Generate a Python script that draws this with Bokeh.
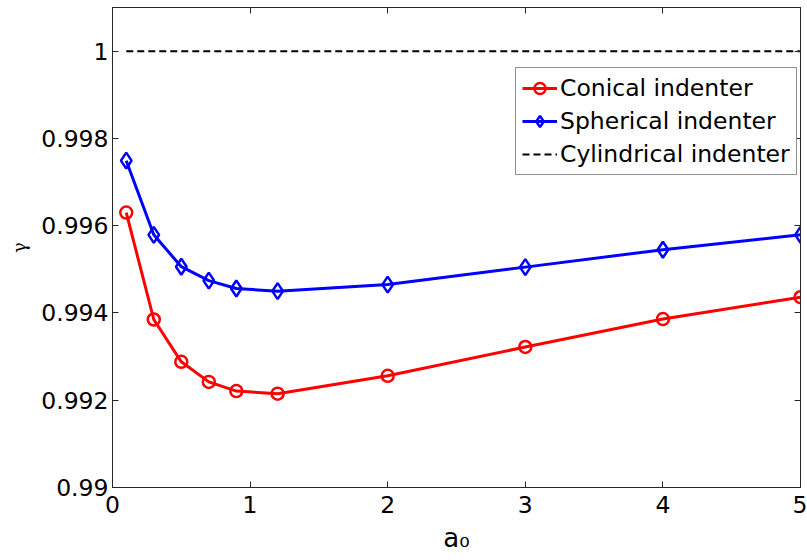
from bokeh.plotting import figure
from bokeh.models import (FixedTicker, LinearAxis, Legend, LegendItem,
                          CustomJSTickFormatter, Range1d)
from bokeh.embed import file_html
from bokeh.resources import INLINE

# ---- data ----
a0 = [0.1, 0.3, 0.5, 0.7, 0.9, 1.2, 2, 3, 4, 5]
conical = [0.99630, 0.99385, 0.99288, 0.99242, 0.99221, 0.99215,
           0.99256, 0.99322, 0.99386, 0.99436]
spherical = [0.99749, 0.99579, 0.99506, 0.99474, 0.99456, 0.99450,
             0.99465, 0.99505, 0.99545, 0.99579]
cyl_x = [0.1, 5]
cyl_y = [1.0, 1.0]
x_ticks = [0, 1, 2, 3, 4, 5]
y_ticks = [0.99, 0.992, 0.994, 0.996, 0.998, 1.0]
y_tick_labels = ["0.99", "0.992", "0.994", "0.996", "0.998", "1"]
series_labels = ["Conical indenter", "Spherical indenter", "Cylindrical indenter"]
x_label = "a₀"
y_label = "γ"

FONT = "DejaVu Sans"
FS = "23.5px"
AXC = "#262626"

p = figure(width=807, height=560,
           min_border_left=112, min_border_right=7,
           min_border_top=7, min_border_bottom=73,
           x_range=Range1d(0, 5), y_range=Range1d(0.99, 1.001),
           output_backend="svg", toolbar_location=None,
           background_fill_color="white", border_fill_color="white")
p.outline_line_color = AXC
p.xgrid.visible = False
p.ygrid.visible = False

xa = p.xaxis[0]
xa.ticker = FixedTicker(ticks=x_ticks)
xa.axis_label = x_label
xa.axis_label_text_font = FONT
xa.axis_label_text_font_style = "normal"
xa.axis_label_text_font_size = "26px"
xa.axis_label_standoff = 7
ya = p.yaxis[0]
ya.ticker = FixedTicker(ticks=y_ticks)
ya.major_label_overrides = {v: s for v, s in zip(y_ticks, y_tick_labels)}
ya.axis_label = y_label
ya.axis_label_text_font = "DejaVu Serif"
ya.axis_label_text_font_style = "normal"
ya.axis_label_text_font_size = "18px"
ya.axis_label_standoff = 8

for ax in (xa, ya):
    ax.major_tick_in = 6
    ax.major_tick_out = 0
    ax.minor_tick_line_color = None
    ax.axis_line_color = AXC
    ax.major_tick_line_color = AXC
    ax.major_label_text_font = FONT
    ax.major_label_text_font_size = FS
    ax.major_label_text_color = "black"
    ax.axis_label_text_color = "black"
xa.major_label_standoff = 8
ya.major_label_standoff = 4

empty = CustomJSTickFormatter(code="return ''")
ra = LinearAxis(ticker=FixedTicker(ticks=y_ticks), formatter=empty,
                major_tick_in=6, major_tick_out=0, minor_tick_line_color=None,
                axis_line_color=AXC, major_tick_line_color=AXC,
                major_label_standoff=0, major_label_text_font_size="1px")
ta = LinearAxis(ticker=FixedTicker(ticks=x_ticks), formatter=empty,
                major_tick_in=6, major_tick_out=0, minor_tick_line_color=None,
                axis_line_color=AXC, major_tick_line_color=AXC,
                major_label_standoff=0, major_label_text_font_size="1px")
p.add_layout(ra, "right")
p.add_layout(ta, "above")

r_cyl = p.line(cyl_x, cyl_y, line_color="black", line_width=2, line_dash="7 4")
r_sl = p.line(a0, spherical, line_color="#0000ff", line_width=3)
r_sm = p.scatter(a0, spherical, marker="diamond", size=16, fill_color=None,
                 line_color="#0000ff", line_width=2.5)
r_cl = p.line(a0, conical, line_color="#ff0000", line_width=3)
r_cm = p.scatter(a0, conical, marker="circle", size=12, fill_color=None,
                 line_color="#ff0000", line_width=2.5)

legend = Legend(items=[
    LegendItem(label=series_labels[0], renderers=[r_cl, r_cm]),
    LegendItem(label=series_labels[1], renderers=[r_sl, r_sm]),
    LegendItem(label=series_labels[2], renderers=[r_cyl]),
], location=(403, 312))
legend.label_text_font = FONT
legend.label_text_font_size = FS
legend.label_text_color = "black"
legend.glyph_width = 35
legend.glyph_height = 28
legend.label_height = 28
legend.label_standoff = 3
legend.spacing = 5
legend.padding = 6
legend.margin = 0
legend.border_line_color = AXC
legend.border_line_width = 1
legend.background_fill_color = "white"
legend.background_fill_alpha = 1
p.add_layout(legend, "center")

open("out.html", "w").write(file_html(p, INLINE))
